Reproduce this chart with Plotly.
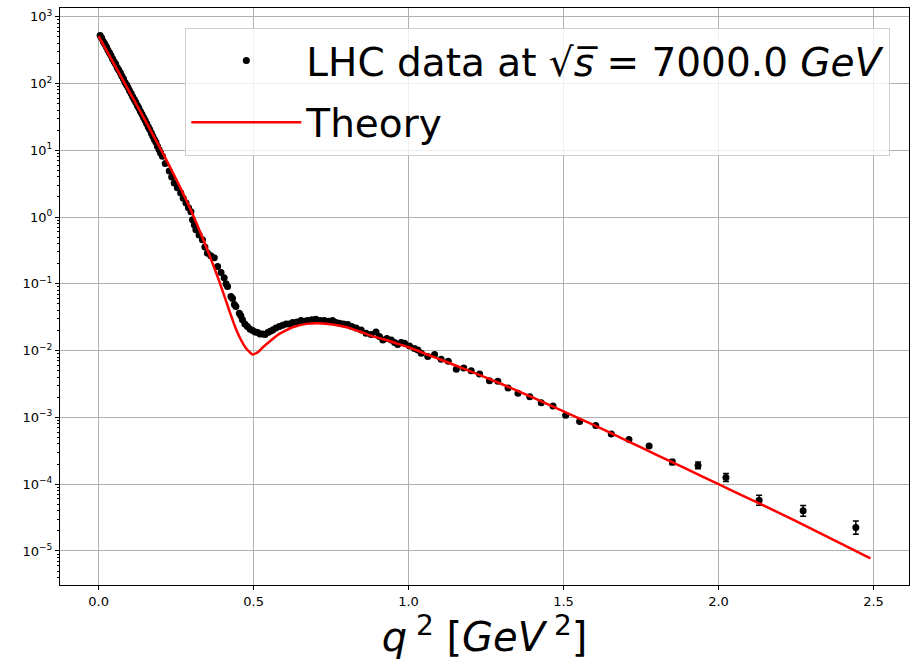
import numpy as np
import plotly.graph_objects as go

# ---- Data (t = q^2 in GeV^2, values as log10 of dσ/dt) ----
t_data = [0.005, 0.010, 0.015, 0.020, 0.025, 0.030, 0.035, 0.040, 0.045, 0.050,
          0.055, 0.060, 0.065, 0.070, 0.075, 0.080, 0.085, 0.090, 0.095, 0.100,
          0.105, 0.110, 0.115, 0.120, 0.125, 0.130, 0.135, 0.140, 0.145, 0.150,
          0.155, 0.160, 0.165, 0.170, 0.175, 0.180, 0.185, 0.190, 0.195, 0.200,
          0.206, 0.215, 0.228, 0.236, 0.244, 0.254, 0.265, 0.273, 0.282, 0.290,
          0.298, 0.303, 0.309, 0.314, 0.324, 0.335, 0.343, 0.351, 0.362, 0.373,
          0.384, 0.395, 0.405, 0.411, 0.416, 0.427, 0.432, 0.438, 0.443, 0.454,
          0.459, 0.464, 0.472, 0.480, 0.489, 0.497, 0.505, 0.513, 0.521, 0.529,
          0.537, 0.546, 0.554, 0.562, 0.572, 0.583, 0.594, 0.605, 0.615, 0.626,
          0.640, 0.653, 0.664, 0.674, 0.688, 0.701, 0.715, 0.728, 0.742, 0.755,
          0.766, 0.777, 0.790, 0.804, 0.817, 0.831, 0.847, 0.863, 0.879, 0.895,
          0.906, 0.917, 0.930, 0.944, 0.955, 0.965, 0.976, 0.987, 1.003, 1.019,
          1.030, 1.041, 1.062, 1.084, 1.105, 1.128, 1.154, 1.178, 1.202, 1.229,
          1.261, 1.288, 1.321, 1.353, 1.391, 1.428, 1.466, 1.507, 1.552, 1.604,
          1.654, 1.711, 1.776, 1.851, 1.934, 2.024, 2.131, 2.273, 2.443]
log_dsdt_data = [2.72, 2.68, 2.63, 2.59, 2.55, 2.50, 2.46, 2.42, 2.37, 2.33,
                 2.29, 2.24, 2.20, 2.16, 2.11, 2.07, 2.02, 1.98, 1.94, 1.89,
                 1.85, 1.80, 1.76, 1.72, 1.67, 1.63, 1.58, 1.54, 1.49, 1.45,
                 1.40, 1.35, 1.31, 1.26, 1.21, 1.16, 1.12, 1.06, 1.01, 0.96,
                 0.91, 0.80, 0.69, 0.60, 0.51, 0.44, 0.36, 0.28, 0.21, 0.14,
                 0.08, -0.04, -0.12, -0.19, -0.27, -0.34, -0.45, -0.54, -0.58, -0.61,
                 -0.74, -0.83, -0.91, -1.00, -1.04, -1.19, -1.22, -1.31, -1.34, -1.44,
                 -1.48, -1.54, -1.60, -1.64, -1.68, -1.70, -1.72, -1.73, -1.75, -1.75,
                 -1.76, -1.73, -1.71, -1.69, -1.66, -1.64, -1.62, -1.60, -1.60, -1.58,
                 -1.57, -1.55, -1.56, -1.55, -1.54, -1.53, -1.55, -1.55, -1.56, -1.55,
                 -1.58, -1.59, -1.60, -1.61, -1.64, -1.66, -1.69, -1.74, -1.76, -1.72,
                 -1.79, -1.84, -1.82, -1.84, -1.88, -1.91, -1.88, -1.89, -1.93, -1.97,
                 -1.99, -2.04, -2.09, -2.06, -2.13, -2.16, -2.28, -2.26, -2.30, -2.35,
                 -2.45, -2.46, -2.56, -2.64, -2.69, -2.78, -2.83, -2.97, -3.06, -3.12,
                 -3.25, -3.33, -3.43, -3.67, -3.72, -3.90, -4.24, -4.40, -4.65]
# error half-widths (in decades)
log_err_data = [0.01] * 143 + [0.04, 0.05, 0.06, 0.075, 0.08, 0.10]

t_theory = [0.000, 0.050, 0.100, 0.150, 0.200, 0.250, 0.300, 0.350, 0.390, 0.420,
            0.440, 0.455, 0.475, 0.497, 0.515, 0.530, 0.550, 0.583, 0.626, 0.670,
            0.712, 0.755, 0.800, 0.840, 0.880, 0.920, 0.960, 1.000, 1.100, 1.200,
            1.300, 1.400, 1.500, 1.600, 1.700, 1.800, 1.900, 2.000, 2.100, 2.200,
            2.300, 2.400, 2.490]
log_dsdt_theory = [2.71, 2.29, 1.87, 1.45, 1.02, 0.57, 0.08, -0.48, -0.97, -1.38,
                   -1.64, -1.80, -1.96, -2.06, -2.02, -1.95, -1.87, -1.75, -1.65, -1.60,
                   -1.59, -1.61, -1.65, -1.71, -1.78, -1.83, -1.89, -1.95, -2.13, -2.31,
                   -2.50, -2.70, -2.91, -3.12, -3.34, -3.56, -3.78, -4.00, -4.22, -4.44,
                   -4.67, -4.90, -5.11]

x_ticks = [0.0, 0.5, 1.0, 1.5, 2.0, 2.5]
y_tick_exps = [-5, -4, -3, -2, -1, 0, 1, 2, 3]

# ---- build ----
y_data = 10 ** np.array(log_dsdt_data)
e_data = np.array(log_err_data)
err_plus = y_data * (10 ** e_data - 1)
err_minus = y_data * (1 - 10 ** (-e_data))
y_theory = 10 ** np.array(log_dsdt_theory)

FONT = "DejaVu Sans"

fig = go.Figure()
fig.add_trace(go.Scatter(
    x=t_data, y=y_data, mode="markers", legendgroup="data",
    name="LHC data at \u221a<i>s\u0305</i> = 7000.0 <i>GeV</i>",
    marker=dict(color="black", size=7),
    error_y=dict(type="data", array=err_plus, arrayminus=err_minus,
                 color="black", thickness=1.5, width=3, visible=True),
))
fig.add_trace(go.Scatter(
    x=t_theory, y=y_theory, mode="lines", name="Theory", legendgroup="theory",
    line=dict(color="red", width=2.5, shape="spline", smoothing=0.4),
))

def sup_label(p):
    s = str(abs(p))
    return "10<sup>" + ("\u2212" if p < 0 else "") + s + "</sup>"

fig.update_layout(
    width=913, height=662,
    margin=dict(l=60, r=4, t=8, b=77, autoexpand=False),
    paper_bgcolor="white", plot_bgcolor="white",
    font=dict(family=FONT, color="black", size=13),
    showlegend=True,
    legend=dict(
        x=0.978, xanchor="right", y=0.966, yanchor="top",
        bgcolor="rgba(255,255,255,0.8)", bordercolor="#d0d0d0", borderwidth=1,
        font=dict(family=FONT, size=39, color="black"),
        itemwidth=110, tracegroupgap=8,
    ),
)
fig.update_xaxes(
    range=[-0.1245, 2.6145], tickvals=x_ticks, ticktext=[f"{v:.1f}" for v in x_ticks],
    showgrid=True, gridcolor="#b0b0b0", gridwidth=0.8,
    showline=True, linecolor="black", linewidth=1, mirror=True,
    ticks="outside", ticklen=4, tickcolor="black", zeroline=False, automargin=False,
    title=dict(text="<i>q</i><sup> 2</sup> [<i>GeV</i><sup> 2</sup>]",
               font=dict(family=FONT, size=40), standoff=0),
)
fig.update_yaxes(
    type="log", range=[-5.51, 3.13], automargin=False,
    tickvals=[10.0 ** p for p in y_tick_exps], ticktext=[sup_label(p) for p in y_tick_exps],
    showgrid=True, gridcolor="#b0b0b0", gridwidth=0.8,
    showline=True, linecolor="black", linewidth=1, mirror=True,
    ticks="outside", ticklen=4, tickcolor="black", zeroline=False,
    minor=dict(ticks="outside", ticklen=2, tickcolor="black", dtick="D1", showgrid=False),
)

fig.write_html("out.html", config={"displayModeBar": False},
               post_script="document.body.style.margin='0';document.body.style.overflow='hidden';")
